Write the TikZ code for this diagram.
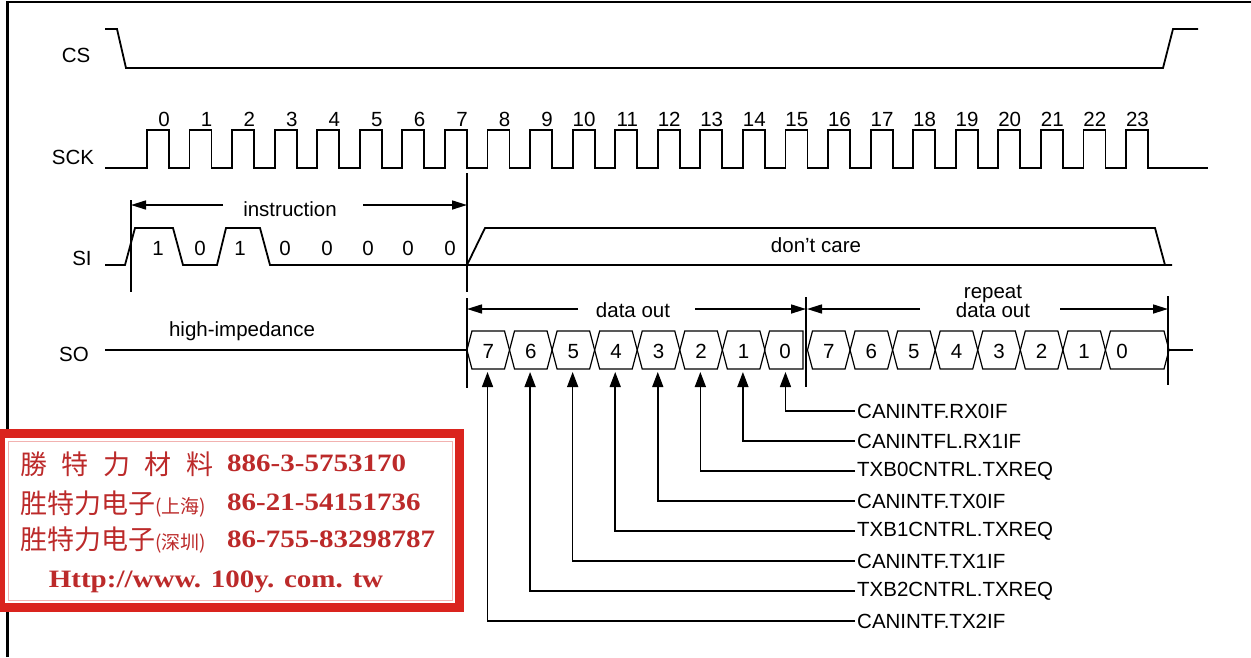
\documentclass[tikz,border=0pt]{standalone}
\usepackage{fontspec}
\setmainfont{Liberation Sans}
\newfontfamily\cjk{Noto Sans CJK SC}
\newfontfamily\stampnum[FakeStretch=1.16]{Liberation Serif}
\usetikzlibrary{arrows.meta}
\definecolor{stampred}{RGB}{218,36,30}
\definecolor{stamptext}{RGB}{188,42,42}
\begin{document}
\begin{tikzpicture}[x=1pt,y=-1pt,
  wave/.style={line width=1.8pt},
  hexcell/.style={line width=1.2pt},
  lbl/.style={font=\fontsize{20.5}{24}\selectfont, inner sep=0pt},
  dimarrow/.style={line width=1.6pt, -{Triangle[length=15pt,width=9pt]}},
  barline/.style={line width=1.8pt},
  ptr/.style={line width=1.5pt, -{Triangle[length=15pt,width=11pt]}},
  stampcjk/.style={font=\cjk\fontsize{27}{30}\selectfont, text=stamptext, inner sep=0pt},
  stampnr/.style={font=\stampnum\bfseries\fontsize{25}{28}\selectfont, text=stamptext, inner sep=0pt},
]
\useasboundingbox (0,0) rectangle (1251,657);
\fill[white] (0,0) rectangle (1251,657);
% frame
\draw[line width=2.5pt] (7.5,657) -- (7.5,2) -- (1251,2);

% ---------------- CS
\draw[wave] (105,29) -- (117,29) -- (126,68) -- (1163,68) -- (1173,29) -- (1198,29);
\node[lbl, anchor=base] (cs) at (76,62) {CS};

% ---------------- SCK
\draw[wave] (105,168) foreach \k in {0,...,23}{ -- ({147+42.565*\k},168) -- ++(0,-38) -- ++(22,0) -- ++(0,38)} -- (1208,168);
\node[lbl, anchor=base] (sck) at (73,164) {SCK};
\foreach \k in {0,...,23}
  \node[lbl, anchor=base east] (n\k) at ({170+42.565*\k},126) {\k};

% ---------------- SI
\draw[wave] (105,265) -- (125,265) -- (135,228) -- (173,228) -- (183,265) -- (217,265)
  -- (226,228) -- (260,228) -- (270,265) -- (1172,265);
\draw[wave] (467,265) -- (485,228) -- (1155,228) -- (1165,265);
\node[lbl, anchor=base] (si) at (82,265) {SI};
\foreach \x/\b [count=\i] in {158/1,200/0,240/1,285/0,327/0,368/0,408/0,450/0}
  \node[lbl, anchor=base] (sib\i) at (\x,255) {\b};
\node[lbl, anchor=base] (dc) at (816,252) {don’t care};

% instruction dimension
\coordinate (iLt) at (131,200); \coordinate (iLb) at (131,292);
\coordinate (iRt) at (467,173); \coordinate (iRb) at (467,292);
\draw[barline] (iLt) -- (iLb);
\draw[barline] (iRt) -- (iRb);
\node[lbl, anchor=base] (instr) at (290,216) {instruction};
\coordinate (iL) at (131,205); \coordinate (iR) at (467,205);
\coordinate (iLs) at (223,205); \coordinate (iRs) at (363,205);
\draw[dimarrow] (iLs) -- (iL);
\draw[dimarrow] (iRs) -- (iR);

% ---------------- SO
\node[lbl, anchor=base] (so) at (74,361) {SO};
\node[lbl, anchor=base] (hiz) at (242,336) {high-impedance};
\draw[wave] (105,350) -- (467,350);
\draw[wave] (1169,350) -- (1193,350);

% hexagon cells, first byte
\foreach \k/\d in {7/7,8/6,9/5,10/4,11/3,12/2,13/1}{
  \draw[hexcell] ({169+42.565*\k},350) -- ++(5,-19) -- ({169+42.565*(\k+1)-5},331)
     -- ({169+42.565*(\k+1)},350) -- ({169+42.565*(\k+1)-5},369) -- ({169+42.565*\k+5},369) -- cycle;
  \node[lbl, anchor=base] (da\k) at ({169+42.565*\k+21.3},358) {\d};
}
\draw[hexcell] (764.5,350) -- (769.5,331) -- (803,331) -- (803,369) -- (769.5,369) -- cycle;
\node[lbl, anchor=base] (da14) at (785,358) {0};

% hexagon cells, repeat byte
\foreach \k/\d in {15/7,16/6,17/5,18/4,19/3,20/2,21/1}{
  \draw[hexcell] ({169+42.565*\k},350) -- ++(5,-19) -- ({169+42.565*(\k+1)-5},331)
     -- ({169+42.565*(\k+1)},350) -- ({169+42.565*(\k+1)-5},369) -- ({169+42.565*\k+5},369) -- cycle;
  \node[lbl, anchor=base] (db\k) at ({169+42.565*\k+21.3},358) {\d};
}
\draw[hexcell] (1105.4,350) -- (1110.4,331) -- (1164,331) -- (1169,350) -- (1164,369) -- (1110.4,369) -- cycle;
\node[lbl, anchor=base] (db22) at (1122,358) {0};

% data out dimension
\coordinate (dLt) at (467,298); \coordinate (dLb) at (467,388);
\coordinate (dRt) at (806,297); \coordinate (dRb) at (806,387);
\coordinate (rRt) at (1168,296); \coordinate (rRb) at (1168,385);
\draw[barline] (dLt) -- (dLb);
\draw[barline] (dRt) -- (dRb);
\draw[barline] (rRt) -- (rRb);
\node[lbl, anchor=base] (dout) at (633,317) {data out};
\coordinate (dL) at (467,309); \coordinate (dR) at (806,309);
\coordinate (dLs) at (578,309); \coordinate (dRs) at (695,309);
\draw[dimarrow] (dLs) -- (dL);
\draw[dimarrow] (dRs) -- (dR);
\node[lbl, anchor=base] (rep1) at (993,298) {repeat};
\node[lbl, anchor=base] (rep2) at (993,317) {data out};
\coordinate (rL) at (807,309); \coordinate (rR) at (1168,309);
\coordinate (rLs) at (920,309); \coordinate (rRs) at (1060,309);
\draw[dimarrow] (rLs) -- (rL);
\draw[dimarrow] (rRs) -- (rR);

% ---------------- flag pointers
\foreach \k/\y/\txt in {15/411/CANINTF.RX0IF, 14/441/CANINTFL.RX1IF, 13/471/TXB0CNTRL.TXREQ,
   12/501/CANINTF.TX0IF, 11/531/TXB1CNTRL.TXREQ, 10/561/CANINTF.TX1IF,
   9/591/TXB2CNTRL.TXREQ, 8/621/CANINTF.TX2IF}{
  \coordinate (tip\k) at ({147+42.565*\k},372);
  \node[lbl, anchor=west, inner sep=2pt] (lab\k) at (855,\y) {\txt};
  \draw[ptr] (lab\k.west) -| (tip\k);
}

% ---------------- stamp
\fill[stampred] (0,429) rectangle (464,612);
\fill[white] (5,438) rectangle (455,603);
\draw[stampred!35, line width=0.8pt] (8,441) rectangle (452,600);
\node[stampcjk, anchor=base west] (s1a) at (20,474) {勝\hspace{14.5pt}特\hspace{14.5pt}力\hspace{14.5pt}材\hspace{14.5pt}料};
\node[stampnr, anchor=base west] (s1b) at (227,471) {886-3-5753170};
\node[stampcjk, anchor=base west] (s2a) at (20,513) {胜特力电子{\fontsize{19}{22}\selectfont(上海)}};
\node[stampnr, anchor=base west] (s2b) at (227,510) {86-21-54151736};
\node[stampcjk, anchor=base west] (s3a) at (20,549) {胜特力电子{\fontsize{19}{22}\selectfont(深圳)}};
\node[stampnr, anchor=base west] (s3b) at (227,547) {86-755-83298787};
\node[stampnr, anchor=base] (s4) at (216,587) {Http://www. 100y. com. tw};
\end{tikzpicture}
\end{document}
